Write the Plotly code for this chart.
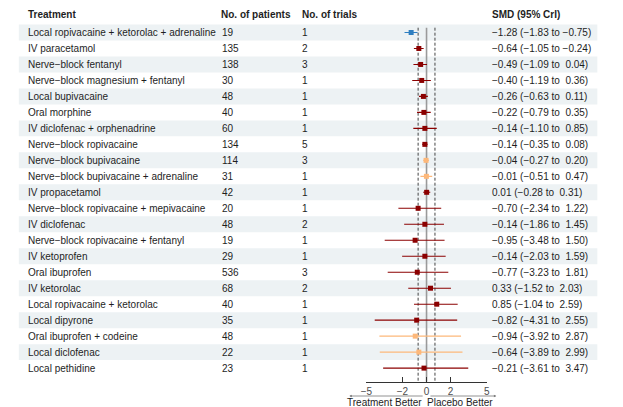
import plotly.graph_objects as go

treatments = [
    "Local ropivacaine + ketorolac + adrenaline", "IV paracetamol", "Nerve\u2212block fentanyl",
    "Nerve\u2212block magnesium + fentanyl", "Local bupivacaine", "Oral morphine",
    "IV diclofenac + orphenadrine", "Nerve\u2212block ropivacaine", "Nerve\u2212block bupivacaine",
    "Nerve\u2212block bupivacaine + adrenaline", "IV propacetamol", "Nerve\u2212block ropivacaine + mepivacaine",
    "IV diclofenac", "Nerve\u2212block ropivacaine + fentanyl", "IV ketoprofen", "Oral ibuprofen",
    "IV ketorolac", "Local ropivacaine + ketorolac", "Local dipyrone", "Oral ibuprofen + codeine",
    "Local diclofenac", "Local pethidine",
]
patients = [19, 135, 138, 30, 48, 40, 60, 134, 114, 31, 42, 20, 48, 19, 29, 536, 68, 40, 35, 48, 22, 23]
trials = [1, 2, 3, 1, 1, 1, 1, 5, 3, 1, 1, 1, 2, 1, 1, 3, 2, 1, 1, 1, 1, 1]
smd = [-1.28, -0.64, -0.49, -0.40, -0.26, -0.22, -0.14, -0.14, -0.04, -0.01, 0.01, -0.70,
       -0.14, -0.95, -0.14, -0.77, 0.33, 0.85, -0.82, -0.94, -0.64, -0.21]
lower = [-1.83, -1.05, -1.09, -1.19, -0.63, -0.79, -1.10, -0.35, -0.27, -0.51, -0.28, -2.34,
         -1.86, -3.48, -2.03, -3.23, -1.52, -1.04, -4.31, -3.92, -3.89, -3.61]
upper = [-0.75, -0.24, 0.04, 0.36, 0.11, 0.35, 0.85, 0.08, 0.20, 0.47, 0.31, 1.22,
         1.45, 1.50, 1.59, 1.81, 2.03, 2.59, 2.55, 2.87, 2.99, 3.47]
group = ["A", "B", "B", "B", "B", "B", "B", "B", "C", "C", "B", "B",
         "B", "B", "B", "B", "B", "B", "B", "C", "C", "B"]
x_ticks = [-5, -2, 0, 2, 5]
ref_lines = [-0.7, 0.7]
headers = ["Treatment", "No. of patients", "No. of trials", "SMD (95% CrI)"]

group_colors = {"A": "#2f7fc1", "B": "#8b0000", "C": "#fdb87a"}
FONT = "Liberation Sans, Arial, sans-serif"
TXT = "#1e1e1e"
W, H = 623, 407
n = len(treatments)


def fmt(v, pad=False):
    s = f"{abs(v):.2f}"
    if v < 0:
        s = "\u2212" + s
    elif pad:
        s = "\u00a0" + s
    return s


def px_x(p):
    return p / W


def px_y(p):
    return (H - p) / H


fig = go.Figure()

for g, col in group_colors.items():
    idx = [i for i in range(n) if group[i] == g]
    fig.add_trace(go.Scatter(
        x=[smd[i] for i in idx], y=[i for i in idx], mode="markers",
        marker=dict(symbol="square", size=5, color=col),
        error_x=dict(type="data", symmetric=False,
                     array=[upper[i] - smd[i] for i in idx],
                     arrayminus=[smd[i] - lower[i] for i in idx],
                     color=col, thickness=1.1, width=0),
        cliponaxis=False, showlegend=False, hoverinfo="skip",
    ))

shapes = []
for i in range(0, n, 2):
    shapes.append(dict(type="rect", xref="paper", yref="y", x0=px_x(13), x1=px_x(600),
                       y0=i - 0.5, y1=i + 0.5, fillcolor="#edf2f4", line=dict(width=0), layer="below"))
y_bottom = n - 1 + 0.85
shapes.append(dict(type="line", xref="x", yref="y", x0=0, x1=0, y0=-0.3, y1=y_bottom,
                   line=dict(color="#9a9a9a", width=1.6), layer="below"))
for r in ref_lines:
    shapes.append(dict(type="line", xref="x", yref="y", x0=r, x1=r, y0=-0.3, y1=y_bottom,
                       line=dict(color="#444444", width=1, dash="3px,2px"), layer="below"))

ann = []
col_x = [22, 218, 300, 493]
for h, cx in zip(headers, col_x):
    ann.append(dict(text=f"<b>{h}</b>", xref="paper", yref="paper", x=px_x(cx), y=px_y(14.5),
                    xanchor="left", yanchor="middle", showarrow=False, borderpad=0, borderwidth=0,
                    font=dict(family=FONT, size=10, color=TXT)))
for i in range(n):
    label = f"{fmt(smd[i])} ({fmt(lower[i])} to {fmt(upper[i], pad=True)})"
    for txt, cx in [(treatments[i], 22), (str(patients[i]), 219), (str(trials[i]), 300), (label, 493)]:
        ann.append(dict(text=txt, xref="paper", yref="y", x=px_x(cx), y=i,
                        xanchor="left", yanchor="middle", showarrow=False, borderpad=0, borderwidth=0,
                        font=dict(family=FONT, size=10, color=TXT)))

arrow_y = px_y(396)
ann.append(dict(xref="x", yref="paper", x=-6.42, y=arrow_y, axref="x", ayref="pixel", ax=-0.2, ay=0,
                showarrow=True, arrowhead=2, arrowsize=0.6, arrowwidth=0.8, arrowcolor="#777777", text=""))
ann.append(dict(xref="x", yref="paper", x=5.8, y=arrow_y, axref="x", ayref="pixel", ax=0.2, ay=0,
                showarrow=True, arrowhead=2, arrowsize=0.6, arrowwidth=0.8, arrowcolor="#777777", text=""))
ann.append(dict(text="Treatment Better", xref="paper", yref="paper", x=px_x(384), y=px_y(397),
                xanchor="center", yanchor="top", showarrow=False, borderpad=0, borderwidth=0,
                font=dict(family=FONT, size=10, color=TXT)))
ann.append(dict(text="Placebo Better", xref="paper", yref="paper", x=px_x(461), y=px_y(397),
                xanchor="center", yanchor="top", showarrow=False, borderpad=0, borderwidth=0,
                font=dict(family=FONT, size=10, color=TXT)))

fig.update_layout(
    width=W, height=H, margin=dict(l=0, r=0, t=0, b=0),
    paper_bgcolor="white", plot_bgcolor="rgba(0,0,0,0)",
    shapes=shapes, annotations=ann,
    xaxis=dict(domain=[px_x(365.7), px_x(487.7)], range=[-5, 5], tickvals=x_ticks,
               ticks="inside", ticklen=5, tickcolor="#333333", tickwidth=1,
               showline=True, linecolor="#333333", linewidth=1,
               showgrid=False, zeroline=False, fixedrange=True,
               tickfont=dict(family=FONT, size=10, color="#4d4d4d")),
    yaxis=dict(domain=[px_y(381.7), px_y(22.1)], range=[y_bottom, -0.65], visible=False,
               fixedrange=True),
    font=dict(family=FONT),
)

fig.write_html("out.html", config={"displayModeBar": False},
               post_script="document.body.style.margin='0';")
